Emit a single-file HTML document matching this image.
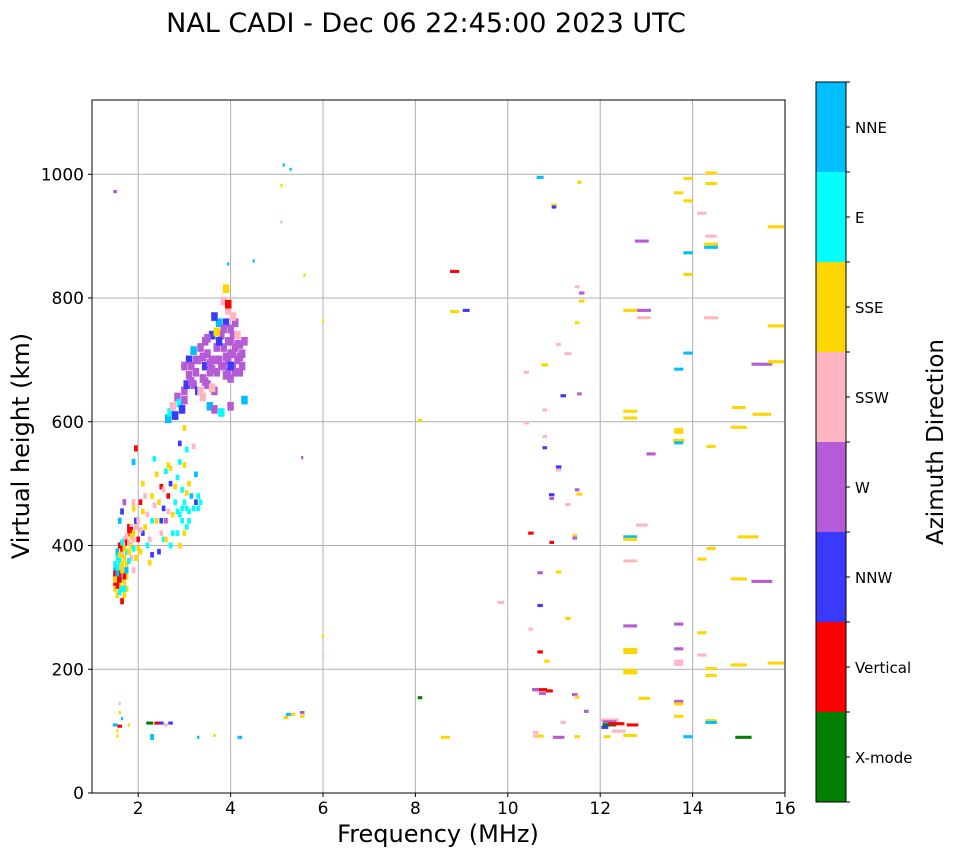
<!DOCTYPE html>
<html><head><meta charset="utf-8"><style>
body{margin:0;background:#fff;width:958px;height:857px;overflow:hidden;font-family:"DejaVu Sans","Liberation Sans",sans-serif}
svg text{font-family:"DejaVu Sans","Liberation Sans",sans-serif}
</style></head><body>
<svg id="chart" width="958" height="857" xmlns="http://www.w3.org/2000/svg">
<text x="426" y="32" font-size="27" text-anchor="middle">NAL CADI - Dec 06 22:45:00 2023 UTC</text>
<g id="grid"></g>
<g id="marks"></g>
<rect x="92" y="100" width="693" height="693" fill="none" stroke="#000" stroke-width="1"/>
<g id="axes"></g>
<text x="438" y="842" font-size="24" text-anchor="middle">Frequency (MHz)</text>
<text transform="translate(29,446) rotate(-90)" font-size="24" text-anchor="middle">Virtual height (km)</text>
<g id="cbar"></g>
<text transform="translate(943,442) rotate(-90)" font-size="23" text-anchor="middle">Azimuth Direction</text>
</svg>
<script>
const xTicks=[2,4,6,8,10,12,14,16];
const yTicks=[0,200,400,600,800,1000];
const directions=["X-mode","Vertical","NNW","W","SSW","SSE","E","NNE"];
const dirColors=["#008000","#ff0000","#3a3aff","#b65bd6","#ffb6c1","#ffd700","#00ffff","#00bfff"];
// [freq MHz, height km, direction index, width MHz]
const sparse=[[10.7,995,7,0.15],[11.55,987,5,0.1],[11.0,950,5,0.12],[11.0,947,2,0.1],[13.9,993,5,0.2],[14.4,1002,5,0.25],[14.4,985,5,0.25],[13.7,970,5,0.2],[13.9,957,5,0.2],[14.2,937,4,0.2],[15.8,915,5,0.35],[14.4,900,4,0.25],[12.9,892,3,0.3],[14.4,887,5,0.3],[14.4,882,7,0.3],[13.9,873,7,0.2],[13.9,838,5,0.2],[8.85,843,1,0.2],[9.1,780,2,0.15],[8.85,778,5,0.2],[11.6,808,3,0.12],[11.5,818,4,0.1],[11.6,795,5,0.12],[12.65,780,5,0.3],[12.95,780,3,0.3],[12.95,768,4,0.3],[14.4,768,4,0.3],[11.5,760,5,0.1],[15.8,755,5,0.35],[11.3,710,4,0.15],[11.1,725,4,0.1],[13.9,711,7,0.2],[10.8,692,5,0.15],[15.5,693,3,0.45],[15.8,697,5,0.35],[13.7,685,7,0.2],[10.4,680,4,0.12],[11.2,642,2,0.12],[11.55,645,3,0.1],[15.0,623,5,0.3],[15.5,612,5,0.4],[10.8,619,4,0.1],[12.65,617,5,0.3],[12.65,606,5,0.3],[15.0,591,5,0.35],[13.7,587,5,0.2],[13.7,583,5,0.2],[13.7,570,5,0.25],[13.7,566,7,0.2],[10.4,598,4,0.12],[10.8,576,4,0.1],[10.8,558,2,0.1],[14.4,560,5,0.2],[13.1,548,3,0.2],[11.1,527,2,0.12],[11.1,522,4,0.12],[11.5,490,3,0.1],[11.55,483,5,0.12],[10.95,482,2,0.12],[10.95,476,3,0.1],[11.3,466,4,0.12],[12.9,433,4,0.25],[10.5,420,1,0.12],[11.45,416,5,0.1],[11.45,412,3,0.1],[12.65,414,7,0.3],[12.65,410,5,0.3],[15.2,414,5,0.45],[14.4,395,5,0.2],[12.65,375,4,0.3],[14.2,378,5,0.2],[15.0,346,5,0.35],[15.5,342,3,0.45],[11.1,357,5,0.12],[10.7,356,3,0.12],[10.7,303,2,0.12],[9.85,308,4,0.15],[11.3,282,5,0.12],[10.5,265,4,0.1],[12.65,270,3,0.3],[13.7,273,3,0.2],[14.2,259,5,0.2],[6.0,253,5,0.05],[6.0,222,4,0.05],[10.7,228,1,0.12],[10.85,213,5,0.12],[12.65,232,5,0.3],[12.65,227,5,0.3],[13.7,233,3,0.2],[14.2,223,4,0.2],[13.7,213,4,0.2],[13.7,208,4,0.2],[14.4,201,5,0.25],[15.0,207,5,0.35],[15.8,210,5,0.35],[12.65,198,5,0.3],[12.65,194,5,0.3],[14.4,190,5,0.25],[10.7,167,1,0.3],[10.6,167,3,0.15],[10.75,161,3,0.15],[10.9,165,1,0.15],[11.45,159,3,0.12],[11.5,155,5,0.1],[8.1,154,0,0.1],[12.95,153,5,0.25],[13.7,148,3,0.2],[13.7,144,5,0.2],[11.7,132,3,0.1],[13.7,124,5,0.2],[12.2,118,4,0.4],[12.2,115,3,0.3],[12.2,110,0,0.3],[12.35,112,1,0.35],[12.7,110,1,0.25],[12.1,106,2,0.15],[11.2,114,4,0.12],[14.4,117,5,0.25],[14.4,114,7,0.25],[10.6,98,4,0.12],[10.6,92,4,0.12],[10.7,92,5,0.15],[11.1,90,3,0.25],[11.5,91,5,0.12],[12.15,91,5,0.15],[12.65,93,5,0.3],[12.4,100,4,0.3],[13.9,91,7,0.2],[15.1,90,0,0.35],[8.65,90,5,0.2],[3.3,90,7,0.05],[3.65,93,5,0.05],[4.2,90,7,0.1],[5.2,122,5,0.1],[5.35,127,5,0.1],[5.55,124,5,0.1],[5.55,130,3,0.1],[5.25,127,7,0.1],[2.25,113,0,0.15],[2.4,113,1,0.1],[2.5,113,2,0.1],[2.7,113,2,0.1],[2.6,110,4,0.1],[2.3,93,7,0.08],[2.3,88,7,0.08],[1.5,110,7,0.1],[1.6,108,1,0.1],[1.65,120,7,0.05],[1.6,130,5,0.05],[1.6,145,4,0.05],[1.55,100,5,0.05],[1.55,92,5,0.05],[1.8,110,5,0.05],[1.5,972,3,0.08],[5.15,1015,7,0.05],[5.3,1008,7,0.05],[5.1,982,5,0.05],[5.1,923,4,0.05],[4.5,860,7,0.05],[3.95,855,7,0.05],[5.6,837,5,0.05],[6.0,763,5,0.05],[8.1,602,5,0.1],[5.55,542,3,0.05],[10.95,405,1,0.1]];
// dense clusters [freq, height, direction]
const clusterLow=[[1.5,330,5],[1.5,340,1],[1.5,350,1],[1.5,360,7],[1.5,370,6],[1.55,320,5],[1.55,345,1],[1.55,380,6],[1.55,390,7],[1.6,325,6],[1.6,335,5],[1.6,355,1],[1.6,365,4],[1.6,375,6],[1.6,400,1],[1.65,310,1],[1.65,330,6],[1.65,345,6],[1.65,370,5],[1.65,385,4],[1.65,395,1],[1.7,320,5],[1.7,340,5],[1.7,360,6],[1.7,380,5],[1.7,410,4],[1.75,330,5],[1.75,350,5],[1.75,370,5],[1.75,390,6],[1.75,405,1],[1.8,420,1],[1.8,430,1],[1.85,400,5],[1.85,415,5],[1.85,430,4],[1.85,380,4],[1.9,360,4],[1.9,395,6],[1.6,440,7],[1.65,455,2],[1.7,470,3],[1.9,460,5],[1.9,470,4],[1.9,535,7],[1.95,557,1],[1.95,380,5],
[1.5,355,1],[1.55,335,1],[1.55,365,6],[1.6,345,1],[1.6,385,5],[1.65,360,5],[1.65,405,6],[1.7,330,6],[1.7,350,1],[1.7,395,5],[1.75,360,7],[1.75,415,4],[1.8,390,5],[1.8,405,4],[1.8,375,6],[1.85,425,1],[1.9,410,4],[1.9,420,5],[1.95,430,4],[1.95,440,2],[1.5,345,5],[1.55,355,7]];
const clusterMid=[[2.0,410,1],[2.0,440,4],[2.05,390,5],[2.05,470,1],[2.1,500,5],[2.1,420,2],[2.15,430,5],[2.2,400,6],[2.2,450,4],[2.25,372,5],[2.3,385,2],[2.3,480,5],[2.35,465,4],[2.4,440,5],[2.4,515,5],[2.45,390,2],[2.5,420,4],[2.5,495,1],[2.55,410,6],[2.55,460,2],[2.6,440,3],[2.6,520,6],[2.65,480,1],[2.65,530,5],[2.7,400,6],[2.7,500,2],[2.75,450,5],[2.8,470,6],[2.85,420,6],[2.85,510,6],[2.9,400,5],[2.9,450,6],[2.95,440,6],[2.95,490,6],[3.0,420,5],[3.0,470,6],[3.0,530,5],[3.05,460,6],[3.1,440,6],[3.1,500,5],[3.15,480,7],[3.2,460,6],[3.25,515,7],[3.3,480,6],[3.35,470,6],[3.05,555,6],[3.2,560,4],[3.0,590,5],[2.9,565,2],[2.35,540,6],
[2.0,395,5],[2.05,425,4],[2.1,455,5],[2.15,480,4],[2.25,410,4],[2.3,440,6],[2.45,470,5],[2.5,440,2],[2.6,410,5],[2.65,455,4],[2.75,420,6],[2.8,495,5],[2.85,455,6],[2.95,460,6],[3.05,430,6],[3.05,485,5],[3.1,455,6],[3.25,470,2],[3.3,460,6],[2.9,535,6],[2.7,525,5],[2.55,490,4]];
const clusterHigh=[[2.65,605,7],[2.7,615,6],[2.75,625,4],[2.8,610,2],[2.85,640,3],[2.9,630,6],[2.95,620,2],[3.0,650,3],[3.05,660,2],[3.1,675,3],[3.1,700,2],[3.15,690,3],[3.2,715,7],[3.2,660,3],[3.25,680,3],[3.3,700,3],[3.3,650,2],[3.35,720,3],[3.4,670,3],[3.4,640,4],[3.45,690,2],[3.5,710,3],[3.5,660,3],[3.55,680,3],[3.55,625,7],[3.6,740,2],[3.6,700,3],[3.65,620,3],[3.65,650,3],[3.7,720,3],[3.7,680,3],[3.75,760,7],[3.75,700,3],[3.8,740,3],[3.8,615,6],[3.85,720,3],[3.85,690,3],[3.9,760,2],[3.9,705,3],[3.95,730,3],[3.95,680,3],[3.95,780,4],[4.0,750,3],[4.0,710,3],[4.0,670,3],[4.05,740,3],[4.05,690,3],[4.1,720,3],[4.1,760,3],[4.15,700,3],[4.15,740,4],[4.2,680,3],[4.2,725,3],[4.25,710,3],[4.3,730,3],[4.0,625,3],[4.3,635,7],[3.9,815,5],[3.55,695,3],[3.45,730,3],[3.35,650,4],[3.0,690,3],[3.65,770,2],[3.85,795,4],[3.95,790,1],[4.05,770,4],
[3.25,700,3],[3.4,705,3],[3.45,665,3],[3.6,685,3],[3.6,655,4],[3.7,700,3],[3.75,730,2],[3.8,690,3],[3.85,750,3],[3.9,675,3],[4.0,730,3],[4.05,710,3],[4.1,680,3],[4.15,725,3],[4.2,705,3],[4.25,690,3],[3.95,700,3],[4.0,690,2],[3.7,745,5],[3.5,735,3],[3.15,665,3],[3.0,635,3]];

const NS="http://www.w3.org/2000/svg";
const X0=92,X1=785,Y0=793,Y1=100,FMIN=1,FMAX=16,HMAX=1120;
function xs(f){return X0+(f-FMIN)/(FMAX-FMIN)*(X1-X0);}
function ys(h){return Y0-h/HMAX*(Y0-Y1);}
function mk(tag,attrs,parent){const e=document.createElementNS(NS,tag);for(const k in attrs)e.setAttribute(k,attrs[k]);parent.appendChild(e);return e;}
const grid=document.getElementById('grid'),axes=document.getElementById('axes'),marks=document.getElementById('marks'),cbar=document.getElementById('cbar');
xTicks.forEach(t=>{const x=xs(t);
 const g=mk('line',{x1:x,x2:x,y1:Y1,y2:Y0,stroke:'#b0b0b0','stroke-width':1},grid);
 
 
 mk('line',{x1:x,x2:x,y1:Y0,y2:Y0+4,stroke:'#000'},axes);
 const tx=mk('text',{x:x,y:Y0+21,'font-size':17,'text-anchor':'middle'},axes);tx.textContent=t;
 
 });
yTicks.forEach(t=>{const y=ys(t);
 const g=mk('line',{x1:X0,x2:X1,y1:y,y2:y,stroke:'#b0b0b0','stroke-width':1},grid);
 
 
 mk('line',{x1:X0-4,x2:X0,y1:y,y2:y,stroke:'#000'},axes);
 const tx=mk('text',{x:X0-8,y:y+6,'font-size':17,'text-anchor':'end'},axes);tx.textContent=t;
 
 });
function draw(f,h,c,w,hh){const x=xs(f),y=ys(h);const pw=Math.max(2,xs(f+w)-x);const ph=Math.max(3,ys(0)-ys(hh));
 const r=mk('rect',{x:x-pw/2,y:y-ph/2,width:pw,height:ph,fill:dirColors[c]},marks);
 
 }
sparse.forEach(p=>draw(p[0],p[1],p[2],p[3],5));
clusterLow.forEach(p=>draw(p[0],p[1],p[2],0.08,10));
clusterMid.forEach(p=>draw(p[0],p[1],p[2],0.08,9));
clusterHigh.forEach(p=>draw(p[0],p[1],p[2],0.14,14));
const CB_X=816,CB_W=30,CB_T=82,CB_B=802,seg=(CB_B-CB_T)/directions.length;
directions.forEach((d,i)=>{const y=CB_B-(i+1)*seg;
 const r=mk('rect',{x:CB_X,y:y,width:CB_W,height:seg,fill:dirColors[i]},cbar);
 
 
 mk('line',{x1:CB_X+CB_W,x2:CB_X+CB_W+4,y1:y+seg/2,y2:y+seg/2,stroke:'#000'},cbar);
 mk('line',{x1:CB_X+CB_W,x2:CB_X+CB_W+4,y1:y,y2:y,stroke:'#000'},cbar);
 const t=mk('text',{x:CB_X+CB_W+9,y:y+seg/2+6,'font-size':15},cbar);t.textContent=d;
 
 });
mk('line',{x1:CB_X+CB_W,x2:CB_X+CB_W+4,y1:CB_B,y2:CB_B,stroke:'#000'},cbar);
mk('rect',{x:CB_X,y:CB_T,width:CB_W,height:CB_B-CB_T,fill:'none',stroke:'#000'},cbar);
</script>
</body></html>
